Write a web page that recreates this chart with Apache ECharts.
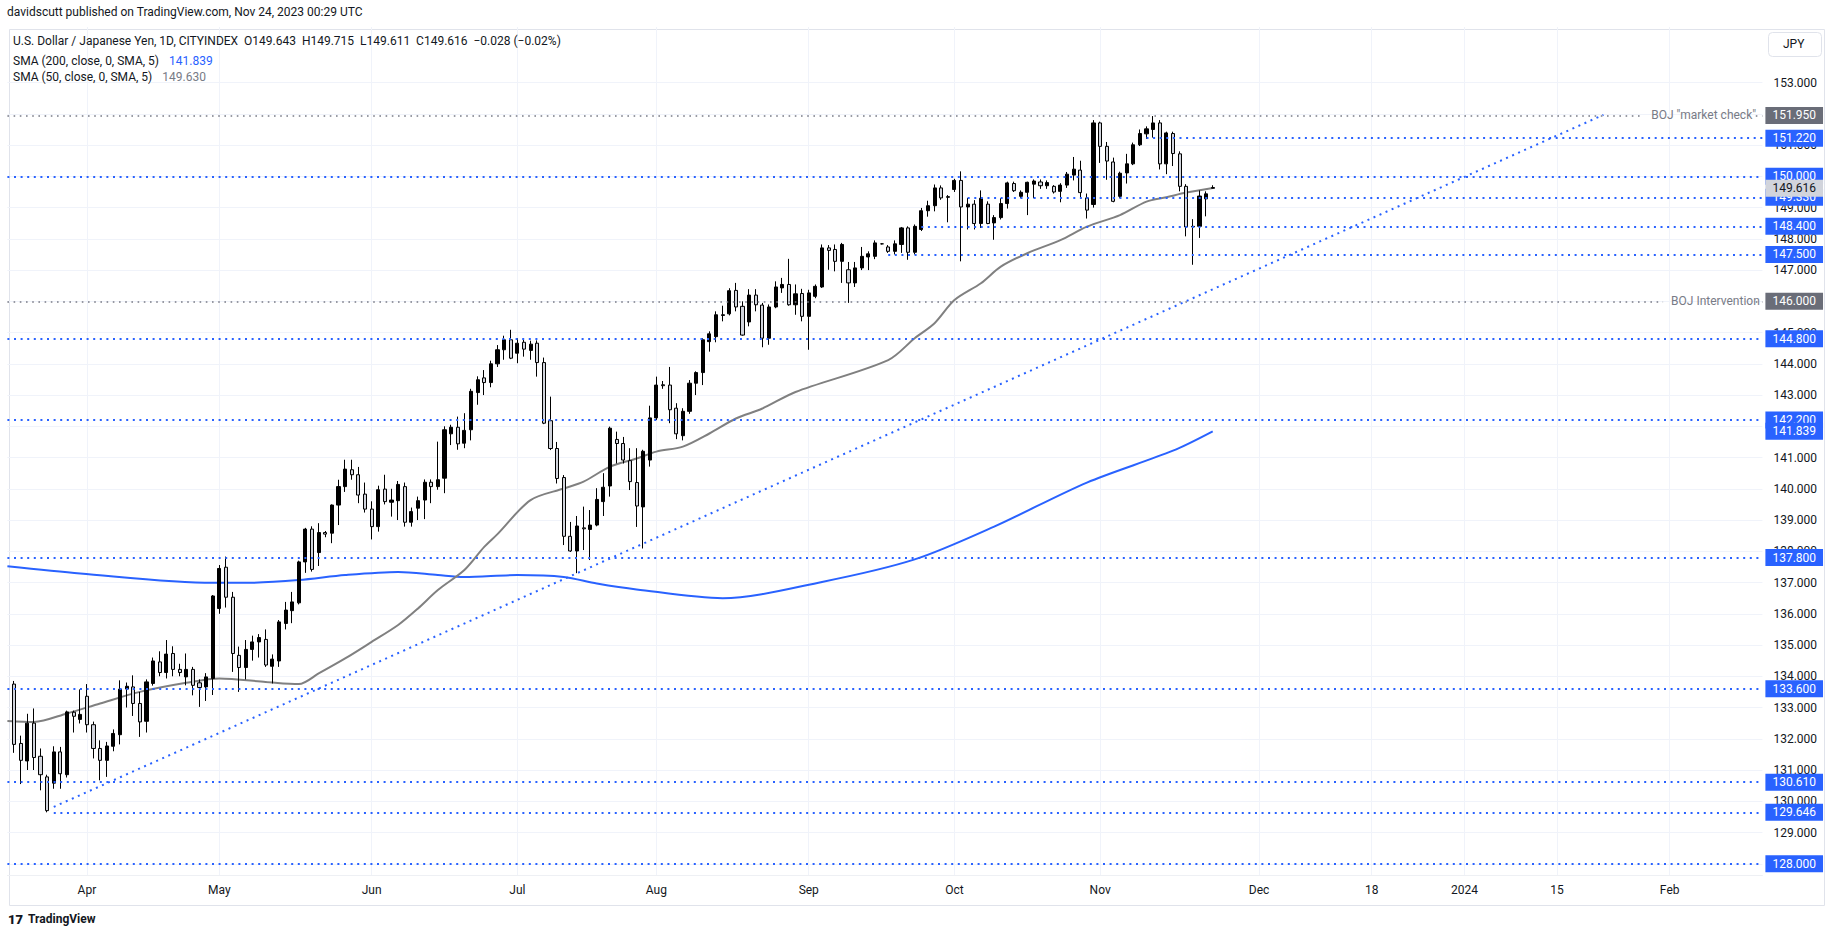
<!DOCTYPE html>
<html>
<head>
<meta charset="utf-8">
<script src="https://cdn.jsdelivr.net/npm/echarts@6/dist/echarts.min.js"></script>
<style>
html,body{margin:0;padding:0;background:#ffffff;}
#chart{width:1835px;height:939px;}
</style>
</head>
<body>
<div id="chart"></div>
<script>
// ---------- DATA ----------
// daily candles: [date, open, close, low, high]
const candles = [
['2023-03-17',133.75,131.82,131.55,133.85],
['2023-03-20',131.85,131.31,130.55,132.10],
['2023-03-21',131.29,132.50,131.00,132.80],
['2023-03-22',132.50,131.40,131.00,132.97],
['2023-03-23',131.44,130.85,130.35,131.69],
['2023-03-24',130.78,129.70,129.646,130.85],
['2023-03-27',130.58,131.58,130.40,131.76],
['2023-03-28',131.58,130.88,130.40,131.74],
['2023-03-29',130.85,132.86,130.76,132.90],
['2023-03-30',132.85,132.72,132.20,132.90],
['2023-03-31',132.62,132.78,132.49,133.58],
['2023-04-03',133.36,132.45,132.20,133.75],
['2023-04-04',132.45,131.69,131.37,132.55],
['2023-04-05',131.69,131.31,130.67,131.95],
['2023-04-06',131.31,131.77,130.78,131.90],
['2023-04-07',131.76,132.17,131.60,132.30],
['2023-04-10',132.13,133.59,131.82,133.87],
['2023-04-11',133.59,133.68,133.00,133.80],
['2023-04-12',133.66,133.13,132.73,134.03],
['2023-04-13',133.13,132.54,132.06,133.50],
['2023-04-14',132.56,133.82,132.20,133.90],
['2023-04-17',133.77,134.49,133.70,134.60],
['2023-04-18',134.46,134.12,134.00,134.80],
['2023-04-19',134.12,134.71,133.93,135.16],
['2023-04-20',134.73,134.22,134.00,134.96],
['2023-04-21',134.22,134.12,134.00,134.40],
['2023-04-24',133.98,134.22,133.71,134.73],
['2023-04-25',134.22,133.71,133.39,134.30],
['2023-04-26',133.79,133.64,133.02,133.90],
['2023-04-27',133.66,133.98,133.21,134.10],
['2023-04-28',133.93,136.57,133.40,136.60],
['2023-05-01',136.17,137.45,136.00,137.56],
['2023-05-02',137.49,136.53,136.20,137.83],
['2023-05-03',136.53,134.73,134.14,136.70],
['2023-05-04',134.67,134.28,133.50,134.95],
['2023-05-05',134.28,134.86,133.90,135.16],
['2023-05-08',134.86,135.10,134.50,135.30],
['2023-05-09',135.10,135.24,134.60,135.35],
['2023-05-10',135.18,134.36,134.30,135.50],
['2023-05-11',134.32,134.55,133.77,134.70],
['2023-05-12',134.49,135.74,134.30,135.80],
['2023-05-15',135.69,136.12,135.50,136.38],
['2023-05-16',136.10,136.38,135.70,136.70],
['2023-05-17',136.35,137.66,136.30,137.70],
['2023-05-18',137.66,138.71,137.31,138.75],
['2023-05-19',138.71,137.42,137.35,138.80],
['2023-05-22',137.96,138.60,137.53,138.90],
['2023-05-23',138.60,138.55,138.45,138.65],
['2023-05-24',138.58,139.48,138.26,139.50],
['2023-05-25',139.48,140.07,138.84,140.29],
['2023-05-26',140.07,140.63,139.90,140.93],
['2023-05-29',140.61,140.45,140.29,140.93],
['2023-05-30',140.45,139.80,139.54,140.70],
['2023-05-31',139.83,139.35,139.24,140.20],
['2023-06-01',139.35,138.79,138.38,139.60],
['2023-06-02',138.79,139.97,138.63,140.10],
['2023-06-05',139.99,139.59,139.50,140.45],
['2023-06-06',139.57,139.64,139.11,140.00],
['2023-06-07',139.62,140.14,139.00,140.25],
['2023-06-08',140.07,138.93,138.79,140.20],
['2023-06-09',138.93,139.27,138.79,139.40],
['2023-06-12',139.38,139.62,139.00,139.75],
['2023-06-13',139.64,140.21,139.03,140.30],
['2023-06-14',140.21,140.07,139.54,140.30],
['2023-06-15',140.07,140.29,139.97,141.51],
['2023-06-16',140.34,141.89,139.86,142.00],
['2023-06-19',141.76,141.97,141.40,142.05],
['2023-06-20',141.97,141.44,141.25,142.31],
['2023-06-21',141.46,141.87,141.30,142.42],
['2023-06-22',141.89,143.12,141.55,143.20],
['2023-06-23',143.08,143.49,142.69,143.60],
['2023-06-26',143.55,143.40,143.00,143.80],
['2023-06-27',143.40,144.00,143.25,144.10],
['2023-06-28',144.00,144.45,143.90,144.60],
['2023-06-29',144.45,144.77,144.13,144.90],
['2023-06-30',144.77,144.18,144.15,145.09],
['2023-07-03',144.34,144.66,144.02,144.82],
['2023-07-04',144.69,144.47,144.23,144.77],
['2023-07-05',144.43,144.63,144.13,144.74],
['2023-07-06',144.66,144.04,143.59,144.75],
['2023-07-07',144.04,142.10,142.07,144.20],
['2023-07-10',142.18,141.29,141.24,142.95],
['2023-07-11',141.29,140.33,140.17,141.50],
['2023-07-12',140.36,138.48,138.20,140.44],
['2023-07-13',138.48,138.01,137.98,138.94],
['2023-07-14',138.01,138.81,137.30,139.13],
['2023-07-17',138.75,138.72,138.04,139.43],
['2023-07-18',138.70,138.84,137.72,139.32],
['2023-07-19',138.84,139.66,138.80,140.02],
['2023-07-20',139.59,140.05,139.13,140.50],
['2023-07-21',140.09,141.94,139.75,141.99],
['2023-07-24',141.58,141.45,140.81,141.83],
['2023-07-25',141.45,140.92,140.81,141.66],
['2023-07-26',140.90,140.23,139.96,141.30],
['2023-07-27',140.20,139.45,138.78,141.30],
['2023-07-28',139.42,141.20,138.09,141.25],
['2023-07-31',140.92,142.27,140.71,142.66],
['2023-08-01',142.27,143.32,142.20,143.59],
['2023-08-02',143.33,143.30,143.20,143.45],
['2023-08-03',143.32,142.53,142.10,143.90],
['2023-08-04',142.58,141.76,141.59,142.74],
['2023-08-07',141.70,142.48,141.55,142.58],
['2023-08-08',142.48,143.38,142.40,143.48],
['2023-08-09',143.38,143.72,143.00,143.76],
['2023-08-10',143.72,144.77,143.32,144.82],
['2023-08-11',144.71,144.96,144.39,145.04],
['2023-08-14',144.87,145.57,144.69,145.68],
['2023-08-15',145.55,145.57,145.36,145.86],
['2023-08-16',145.60,146.34,145.55,146.42],
['2023-08-17',146.35,145.82,145.68,146.59],
['2023-08-18',145.84,144.92,144.90,146.00],
['2023-08-21',145.34,146.20,145.20,146.39],
['2023-08-22',146.20,145.89,145.68,146.39],
['2023-08-23',145.88,144.82,144.53,145.95],
['2023-08-24',144.82,145.82,144.61,145.90],
['2023-08-25',145.82,146.46,145.78,146.64],
['2023-08-28',146.43,146.54,146.27,146.75],
['2023-08-29',146.54,145.89,145.86,147.36],
['2023-08-30',145.89,146.24,145.57,146.54],
['2023-08-31',146.25,145.52,145.36,146.40],
['2023-09-01',145.52,146.27,144.45,146.37],
['2023-09-04',146.16,146.48,146.10,146.54],
['2023-09-05',146.46,147.71,146.43,147.82],
['2023-09-06',147.71,147.63,147.01,147.80],
['2023-09-07',147.66,147.28,146.96,147.82],
['2023-09-08',147.28,147.82,146.59,147.87],
['2023-09-11',147.01,146.59,145.95,147.26],
['2023-09-12',146.59,147.07,146.46,147.26],
['2023-09-13',147.07,147.44,147.00,147.74],
['2023-09-14',147.42,147.52,147.00,147.60],
['2023-09-15',147.44,147.87,147.35,147.95],
['2023-09-17',147.84,147.84,147.82,147.86],
['2023-09-18',147.74,147.60,147.55,147.80],
['2023-09-19',147.60,147.84,147.50,147.95],
['2023-09-20',147.82,148.35,147.55,148.38],
['2023-09-21',148.35,147.57,147.33,148.40],
['2023-09-22',147.57,148.40,147.50,148.46],
['2023-09-25',148.30,148.90,148.25,148.99],
['2023-09-26',148.90,149.06,148.71,149.22],
['2023-09-27',149.06,149.63,148.88,149.74],
['2023-09-28',149.63,149.31,149.25,149.71],
['2023-09-29',149.33,149.35,148.53,149.40],
['2023-10-02',149.58,149.87,149.50,149.92],
['2023-10-03',149.87,149.02,147.28,150.16],
['2023-10-04',149.02,149.11,148.30,149.31],
['2023-10-05',149.11,148.49,148.30,149.24],
['2023-10-06',148.49,149.30,148.35,149.55],
['2023-10-09',149.11,148.49,148.47,149.20],
['2023-10-10',148.51,148.68,147.97,148.76],
['2023-10-11',148.68,149.13,148.62,149.30],
['2023-10-12',149.13,149.79,148.97,149.83],
['2023-10-13',149.77,149.54,149.50,149.83],
['2023-10-16',149.36,149.49,149.30,149.55],
['2023-10-17',149.49,149.81,148.76,149.83],
['2023-10-18',149.75,149.85,149.30,149.90],
['2023-10-19',149.82,149.70,149.60,149.90],
['2023-10-20',149.70,149.80,149.60,149.87],
['2023-10-23',149.68,149.50,149.45,149.72],
['2023-10-24',149.52,149.72,149.17,149.78],
['2023-10-25',149.72,150.07,149.63,150.14],
['2023-10-26',150.04,150.23,149.87,150.62],
['2023-10-27',150.20,149.48,149.29,150.50],
['2023-10-30',149.31,148.92,148.65,149.45],
['2023-10-31',149.10,151.71,149.00,151.80],
['2023-11-01',151.71,150.96,150.43,151.75],
['2023-11-02',150.96,150.49,149.89,151.10],
['2023-11-03',150.46,149.20,149.17,150.60],
['2023-11-06',149.36,150.10,149.30,150.15],
['2023-11-07',150.11,150.40,149.77,150.72],
['2023-11-08',150.40,151.01,150.36,151.08],
['2023-11-09',151.01,151.37,150.97,151.50],
['2023-11-10',151.36,151.52,151.20,151.60],
['2023-11-13',151.50,151.71,151.24,151.93],
['2023-11-14',151.71,150.40,150.22,151.80],
['2023-11-15',150.40,151.39,150.07,151.43],
['2023-11-16',151.37,150.73,150.33,151.43],
['2023-11-17',150.72,149.68,149.52,150.80],
['2023-11-20',149.68,148.38,148.08,149.75],
['2023-11-21',148.38,148.40,147.17,148.63],
['2023-11-22',148.40,149.37,148.03,149.55],
['2023-11-23',149.28,149.44,148.72,149.52],
['2023-11-24',149.643,149.616,149.611,149.715]
];

// 200-day SMA: [date, value]
const sma200 = [
['2023-03-16',137.52],['2023-03-31',137.29],['2023-04-28',136.99],['2023-05-05',136.99],
['2023-05-17',137.08],['2023-05-26',137.24],['2023-06-07',137.34],['2023-06-15',137.24],
['2023-06-21',137.18],['2023-07-03',137.24],['2023-07-12',137.18],['2023-07-19',136.97],
['2023-07-27',136.78],['2023-08-15',136.50],['2023-09-05',137.02],['2023-09-22',137.74],
['2023-10-10',138.79],['2023-10-30',140.20],['2023-11-16',141.22],['2023-11-24',141.84]
];
// 50-day SMA: [date, value]
const sma50 = [
['2023-03-16',132.57],['2023-03-22',132.54],['2023-03-29',132.81],['2023-04-05',133.13],
['2023-04-13',133.50],['2023-04-24',133.79],['2023-05-01',133.93],['2023-05-10',133.82],
['2023-05-17',133.75],['2023-05-22',134.09],['2023-05-26',134.57],['2023-06-01',135.10],
['2023-06-07',135.64],['2023-06-12',136.17],['2023-06-15',136.76],['2023-06-21',137.40],
['2023-06-26',138.14],['2023-06-28',138.55],['2023-07-05',139.64],['2023-07-12',140.01],
['2023-07-17',140.23],['2023-07-21',140.71],['2023-07-27',140.97],['2023-08-01',141.19],
['2023-08-07',141.35],['2023-08-11',141.77],['2023-08-17',142.25],['2023-08-23',142.57],
['2023-08-30',143.10],['2023-09-18',144.12],['2023-09-22',144.82],['2023-09-27',145.30],
['2023-10-02',146.04],['2023-10-06',146.58],['2023-10-11',147.11],['2023-10-17',147.54],
['2023-10-24',147.96],['2023-10-30',148.39],['2023-11-06',148.76],['2023-11-10',149.19],
['2023-11-15',149.33],['2023-11-20',149.48],['2023-11-24',149.63]
];

// dotted trend line anchors: [date, price]
const trendLine = [['2023-03-27',129.82],['2024-01-22',151.97]];

// horizontal levels
const levelValues = [151.95,151.22,150.00,149.33,148.40,147.50,146.00,144.80,142.20,137.80,133.60,130.61,129.646,128.00];
const levelStarts = ['2023-03-16','2023-11-10','2023-03-16','2023-10-04','2023-09-25','2023-09-18','2023-03-16','2023-03-16','2023-03-16','2023-03-16','2023-03-16','2023-03-16','2023-03-27','2023-03-16'];
const levelKinds  = ['note','blue','blue','blue','blue','blue','note','blue','blue','blue','blue','blue','blue','blue'];
const noteTexts   = {'151.95':'BOJ "market check"','146':'BOJ Intervention'};
const noteEnds    = {'151.95':'2024-01-28','146':'2024-01-31'};

// extra price-scale labels: last SMA200 value and last price
const sma200Last = 141.839;
const lastPrice = 149.616;

// price-scale tick labels
const priceTicks = [128,129,130,131,132,133,134,135,136,137,138,139,140,141,142,143,144,145,146,147,148,149,150,151,152,153];

// time-scale labels
const timeLabelDates = ['2023-04-03','2023-05-01','2023-06-01','2023-07-03','2023-08-01','2023-09-01','2023-10-02','2023-11-01','2023-12-01','2023-12-18','2024-01-01','2024-01-15','2024-02-01'];
const timeLabelTexts = ['Apr','May','Jun','Jul','Aug','Sep','Oct','Nov','Dec','18','2024','15','Feb'];

// header texts
const headerLine = 'davidscutt published on TradingView.com, Nov 24, 2023 00:29 UTC';
const symbolLine = 'U.S. Dollar / Japanese Yen, 1D, CITYINDEX  O149.643  H149.715  L149.611  C149.616  \u22120.028 (\u22120.02%)';
const sma200Legend = ['SMA (200, close, 0, SMA, 5)', '141.839'];
const sma50Legend = ['SMA (50, close, 0, SMA, 5)', '149.630'];

// ---------- BUILD ----------
const FONT = 'Roboto, "Noto Sans", "DejaVu Sans", sans-serif';
const BLUE = '#2962ff';
const GREY_LINE = '#787b86';
const GREY_BOX = '#6a6d78';

function calendarDays(startISO, endISO) {
  const out = [];
  let t = Date.parse(startISO + 'T00:00:00Z');
  const e = Date.parse(endISO + 'T00:00:00Z');
  while (t <= e) { out.push(new Date(t).toISOString().slice(0, 10)); t += 86400000; }
  return out;
}
const leadIn = ['2023-03-16'];
const futureDays = calendarDays('2023-11-25', '2024-02-15');
const categories = leadIn.concat(candles.map(c => c[0]), futureDays);
const axisEnd = categories[categories.length - 1];
const axisEndPrev = categories[categories.length - 2];

const candleData = ['-'].concat(candles.map(c => [c[1], c[2], c[3], c[4]]));

const timeLabelMap = {};
timeLabelDates.forEach((d, i) => { timeLabelMap[d] = timeLabelTexts[i]; });
const isTimeLabel = (idx, val) => Object.prototype.hasOwnProperty.call(timeLabelMap, val);

function boxLabel(text, bg, fg) {
  return {
    show: true, position: 'end', distance: 3, formatter: text,
    color: fg || '#ffffff', backgroundColor: bg, padding: [2, 7, 2, 7],
    fontSize: 12, lineHeight: 13, fontFamily: FONT
  };
}
const blueDots = { color: BLUE, width: 2, type: [2, 4.6], cap: 'butt' };
const greyDots = { color: GREY_LINE, width: 1.6, type: [1.6, 4.6], cap: 'butt' };
const noLine = { color: 'rgba(0,0,0,0)', width: 1, type: 'solid' };

const markData = [];
levelValues.forEach((v, i) => {
  const key = String(v);
  if (levelKinds[i] === 'note') {
    markData.push([
      { coord: [levelStarts[i], v], lineStyle: greyDots,
        label: { show: true, position: 'end', distance: 8, formatter: noteTexts[key], color: GREY_LINE, fontSize: 12, fontFamily: FONT } },
      { coord: [noteEnds[key], v] }
    ]);
    markData.push([
      { coord: [axisEndPrev, v], lineStyle: greyDots, label: boxLabel(v.toFixed(3), GREY_BOX) },
      { coord: [axisEnd, v] }
    ]);
  } else {
    markData.push([
      { coord: [levelStarts[i], v], lineStyle: blueDots, label: boxLabel(v.toFixed(3), BLUE) },
      { coord: [axisEnd, v] }
    ]);
  }
});
markData.push([
  { coord: [axisEndPrev, sma200Last], lineStyle: noLine, label: boxLabel(sma200Last.toFixed(3), BLUE) },
  { coord: [axisEnd, sma200Last] }
]);
markData.push([
  { coord: [axisEndPrev, lastPrice], lineStyle: noLine, label: boxLabel(lastPrice.toFixed(3), '#d1d4dc', '#131722') },
  { coord: [axisEnd, lastPrice] }
]);

const txt = { fontSize: 12, fontWeight: 'normal', color: '#131722', fontFamily: FONT };

const option = {
  animation: false,
  backgroundColor: '#ffffff',
  title: [
    { text: headerLine, left: 7, top: 6, padding: 0, textStyle: txt },
    { text: symbolLine, left: 13, top: 35, padding: 0, textStyle: txt },
    { text: '{a|' + sma200Legend[0] + '}  {b|' + sma200Legend[1] + '}', left: 13, top: 52, padding: 0,
      textStyle: { rich: { a: txt, b: Object.assign({}, txt, { color: BLUE }) } } },
    { text: '{a|' + sma50Legend[0] + '}  {b|' + sma50Legend[1] + '}', left: 13, top: 68, padding: 0,
      textStyle: { rich: { a: txt, b: Object.assign({}, txt, { color: GREY_LINE }) } } },
    { text: '{l|17} {t|TradingView}', left: 8, top: 910, padding: 0,
      textStyle: { rich: { l: { fontSize: 13, fontWeight: 900, color: '#131722', fontFamily: FONT },
                           t: { fontSize: 12, color: '#131722', fontFamily: FONT } } } }
  ],
  graphic: [
    { type: 'rect', left: 7, top: 27, shape: { width: 1815, height: 876 }, silent: true,
      style: { fill: 'none', stroke: '#e0e3eb', lineWidth: 1 }, z: -1 },
    { type: 'rect', left: 1768, top: 32, shape: { width: 53, height: 24, r: 4 },
      style: { fill: '#ffffff', stroke: '#e0e3eb', lineWidth: 1 }, z: 100 },
    { type: 'text', left: 1783, top: 38, style: { text: 'JPY', fill: '#131722', fontSize: 12, fontFamily: FONT }, z: 101 }
  ],
  grid: { left: 7.4, right: 72.6, top: 27, bottom: 64, containLabel: false },
  xAxis: {
    type: 'category', data: categories, boundaryGap: false,
    axisLine: { show: true, lineStyle: { color: '#eef0f4' } },
    axisTick: { show: false },
    axisLabel: { interval: isTimeLabel, formatter: v => timeLabelMap[v] || '', color: '#131722', fontSize: 12, fontFamily: FONT, margin: 9 },
    splitLine: { show: true, interval: isTimeLabel, lineStyle: { color: '#f0f3fa', width: 1 } }
  },
  yAxis: {
    type: 'value', position: 'right', min: 127.64, max: 154.78, scale: true,
    axisLine: { show: false },
    axisTick: { show: false, customValues: priceTicks },
    axisLabel: { customValues: priceTicks, formatter: v => Number(v).toFixed(3), color: '#131722', fontSize: 12, fontFamily: FONT, margin: 11 },
    splitLine: { show: true, lineStyle: { color: '#f0f3fa', width: 1 } }
  },
  series: [
    {
      name: 'SMA 200', type: 'line', data: sma200, showSymbol: false, smooth: 0.3,
      lineStyle: { color: BLUE, width: 2 }, z: 3, silent: true
    },
    {
      name: 'SMA 50', type: 'line', data: sma50, showSymbol: false, smooth: 0.3,
      lineStyle: { color: '#808080', width: 2 }, z: 3, silent: true
    },
    {
      name: 'Trend', type: 'line', data: trendLine, showSymbol: false,
      lineStyle: blueDots, z: 2, silent: true
    },
    {
      name: 'USDJPY', type: 'candlestick', data: candleData, barWidth: 3.6, z: 4,
      itemStyle: { color: '#000000', color0: '#d1d4dc', borderColor: '#000000', borderColor0: '#000000', borderWidth: 1 },
      markLine: { silent: true, symbol: ['none', 'none'], animation: false, z: 5, data: markData }
    }
  ]
};

const chart = echarts.init(document.getElementById('chart'), null, { renderer: 'svg' });
chart.setOption(option);
</script>
</body>
</html>
